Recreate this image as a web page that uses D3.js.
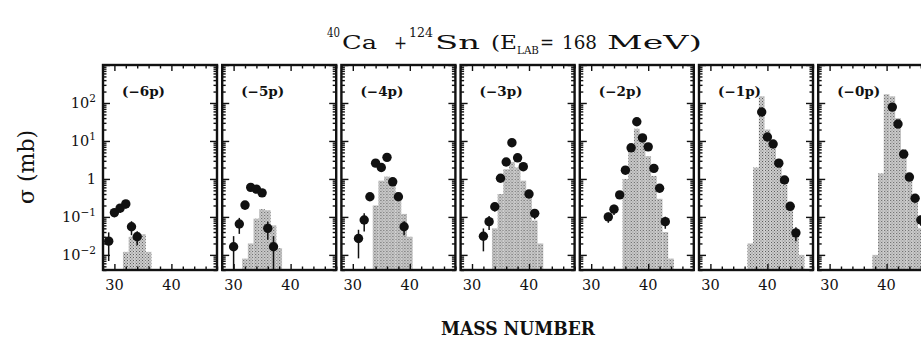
<!DOCTYPE html>
<html>
<head>
<meta charset="utf-8">
<script src="https://cdn.jsdelivr.net/npm/d3@7"></script>
<style>
  body { margin: 0; background: #fff; }
  text { font-family: "DejaVu Serif", serif; fill: #111; }
</style>
</head>
<body>
<script>
// channel labels, one panel each
var channels = ["(\u22126p)", "(\u22125p)", "(\u22124p)", "(\u22123p)", "(\u22122p)", "(\u22121p)", "(\u22120p)"];

// measured cross sections (mb) vs mass number
var expMass = [
  [29, 30, 31, 32, 33, 34],
  [30, 31, 32, 33, 34, 35, 36, 37],
  [31, 32, 33, 34, 35, 36, 37, 38, 39],
  [32, 33, 34, 35, 36, 37, 38, 39, 40, 41],
  [33, 34, 35, 36, 37, 38, 39, 40, 41, 42, 43],
  [39, 40, 41, 42, 43, 44, 45],
  [41, 42, 43, 44, 45, 46]
];
var expSigma = [
  [0.023, 0.13, 0.17, 0.22, 0.055, 0.03],
  [0.0164, 0.065, 0.205, 0.60, 0.54, 0.43, 0.05, 0.0164],
  [0.027, 0.083, 0.34, 2.6, 2.0, 3.7, 0.84, 0.34, 0.055],
  [0.031, 0.075, 0.185, 1.04, 2.8, 9.0, 3.6, 2.1, 0.40, 0.124],
  [0.10, 0.16, 0.38, 1.7, 6.6, 32, 12, 7.0, 1.9, 0.57, 0.075],
  [58, 12.7, 8.3, 2.6, 0.94, 0.19, 0.038],
  [78, 28, 4.5, 1.12, 0.31, 0.083]
];
// relative errors
var expErr = [
  [0.7, 0.25, 0.25, 0.25, 0.4, 0.4],
  [0.9, 0.45, 0.25, 0.15, 0.15, 0.15, 0.5, 0.9],
  [0.7, 0.5, 0.2, 0.15, 0.15, 0.15, 0.15, 0.2, 0.4],
  [0.6, 0.4, 0.25, 0.15, 0.15, 0.15, 0.15, 0.15, 0.2, 0.3],
  [0.3, 0.3, 0.2, 0.15, 0.15, 0.15, 0.15, 0.15, 0.15, 0.2, 0.35],
  [0.15, 0.15, 0.15, 0.15, 0.15, 0.2, 0.4],
  [0.15, 0.15, 0.15, 0.15, 0.2, 0.3]
];

// calculation (grey histogram)
var calcMass = [
  [32, 33, 34, 35, 36],
  [32, 33, 34, 35, 36, 37, 38],
  [34, 35, 36, 37, 38, 39, 40],
  [34, 35, 36, 37, 38, 39, 40, 41, 42],
  [36, 37, 38, 39, 40, 41, 42, 43, 44],
  [37, 38, 39, 40, 41, 42, 43, 44, 45, 46],
  [38, 39, 40, 41, 42, 43, 44, 45, 46, 47]
];
var calcSigma = [
  [0.012, 0.03, 0.04, 0.035, 0.012],
  [0.008, 0.02, 0.09, 0.16, 0.15, 0.06, 0.015],
  [0.2, 0.9, 1.15, 1.0, 0.45, 0.12, 0.03],
  [0.05, 0.4, 1.8, 2.8, 2.0, 0.9, 0.35, 0.08, 0.02],
  [1.0, 5, 21, 10, 4, 1.2, 0.3, 0.04, 0.008],
  [0.02, 2, 150, 20, 7, 2.5, 0.7, 0.15, 0.04, 0.01],
  [0.01, 1.4, 170, 150, 40, 6, 1.2, 0.25, 0.05, 0.01]
];

var xLabelTicks = [30, 40];
var yLabelTicks = [0.01, 0.1, 1, 10, 100];
var yLabelExp = ["\u22122", "\u22121", "", "1", "2"];

var width = 921, height = 341;
var margin = { left: 103, top: 65 };
var panelW = 114, panelH = 205, panelStep = 119.2;

var xScale = d3.scaleLinear().domain([28, 48]).range([0, panelW]);
var yScale = d3.scaleLog().domain([0.004, 1000]).range([panelH, 0]);

var svg = d3.select("body").append("svg")
    .attr("width", width)
    .attr("height", height);

// stippled grey fill
var pat = svg.append("defs").append("pattern")
    .attr("id", "stip")
    .attr("patternUnits", "userSpaceOnUse")
    .attr("width", 3).attr("height", 3);
pat.append("rect").attr("width", 3).attr("height", 3).attr("fill", "#cbcbcb");
pat.append("rect").attr("x", 0).attr("y", 0).attr("width", 1).attr("height", 1).attr("fill", "#5e5e5e");
pat.append("rect").attr("x", 1.5).attr("y", 1.5).attr("width", 1).attr("height", 1).attr("fill", "#7a7a7a");

var xMinor = d3.range(28, 49, 2).filter(function(d){ return xLabelTicks.indexOf(d) < 0; });
var yAll = yScale.ticks();
var yMajor = yAll.filter(function(d){ return Math.abs(Math.log10(d) - Math.round(Math.log10(d))) < 1e-6; });
var yMinor = yAll.filter(function(d){ return yMajor.indexOf(d) < 0; });

function tickAxis(g, axis) {
  g.call(axis);
  g.select(".domain").remove();
  g.selectAll("line").attr("stroke", "#111").attr("stroke-width", 1.4);
}

channels.forEach(function(label, i) {
  var g = svg.append("g")
      .attr("transform", "translate(" + (margin.left + i * panelStep) + "," + margin.top + ")");

  var calc = calcMass[i].map(function(m, j) { return { m: m, s: calcSigma[i][j] }; });
  var exp = expMass[i].map(function(m, j) { return { m: m, s: expSigma[i][j], e: expErr[i][j] }; });

  g.selectAll(".calc").data(calc).enter().append("rect")
      .attr("class", "calc")
      .attr("x", function(d) { return xScale(d.m - 0.5); })
      .attr("width", xScale(1) - xScale(0))
      .attr("y", function(d) { return yScale(d.s); })
      .attr("height", function(d) { return panelH - yScale(d.s); })
      .attr("fill", "url(#stip)");

  // error bars
  g.selectAll(".err").data(exp).enter().append("line")
      .attr("class", "err")
      .attr("x1", function(d) { return xScale(d.m); })
      .attr("x2", function(d) { return xScale(d.m); })
      .attr("y1", function(d) { return yScale(Math.max(d.s * (1 - d.e), 0.004)); })
      .attr("y2", function(d) { return yScale(d.s * (1 + d.e)); })
      .attr("stroke", "#111").attr("stroke-width", 1.5);

  g.selectAll(".pt").data(exp).enter().append("circle")
      .attr("class", "pt")
      .attr("cx", function(d) { return xScale(d.m); })
      .attr("cy", function(d) { return yScale(d.s); })
      .attr("r", 4.7)
      .attr("fill", "#111");

  // inward ticks on all four sides
  tickAxis(g.append("g"), d3.axisLeft(yScale).tickValues(yMajor).tickSize(-7).tickFormat(""));
  tickAxis(g.append("g"), d3.axisLeft(yScale).tickValues(yMinor).tickSize(-3.5).tickFormat(""));
  tickAxis(g.append("g").attr("transform", "translate(" + panelW + ",0)"),
      d3.axisRight(yScale).tickValues(yMajor).tickSize(-7).tickFormat(""));
  tickAxis(g.append("g").attr("transform", "translate(" + panelW + ",0)"),
      d3.axisRight(yScale).tickValues(yMinor).tickSize(-3.5).tickFormat(""));
  tickAxis(g.append("g").attr("transform", "translate(0," + panelH + ")"),
      d3.axisBottom(xScale).tickValues(xLabelTicks).tickSize(-6).tickFormat(""));
  tickAxis(g.append("g").attr("transform", "translate(0," + panelH + ")"),
      d3.axisBottom(xScale).tickValues(xMinor).tickSize(-3.5).tickFormat(""));
  tickAxis(g.append("g"), d3.axisTop(xScale).tickValues(xLabelTicks).tickSize(-6).tickFormat(""));
  tickAxis(g.append("g"), d3.axisTop(xScale).tickValues(xMinor).tickSize(-3.5).tickFormat(""));

  g.append("rect")
      .attr("width", panelW).attr("height", panelH)
      .attr("fill", "none").attr("stroke", "#111").attr("stroke-width", 2.4);

  g.append("text")
      .attr("x", 19).attr("y", 31)
      .attr("font-size", 12.5).attr("font-weight", "bold")
      .attr("textLength", 43).attr("lengthAdjust", "spacingAndGlyphs")
      .text(label);

  g.selectAll(".xl").data(xLabelTicks).enter().append("text")
      .attr("class", "xl")
      .attr("x", function(d) { return xScale(d); })
      .attr("y", panelH + 20)
      .attr("text-anchor", "middle")
      .attr("font-size", 14.5)
      .text(function(d) { return d; });

  if (i === 0) {
    var yl = g.selectAll(".yl").data(yLabelTicks).enter().append("text")
        .attr("class", "yl")
        .attr("x", -7)
        .attr("y", function(d) { return yScale(d) + 5; })
        .attr("text-anchor", "end")
        .attr("font-size", 14.5);
    yl.append("tspan").text(function(d, j) { return yLabelExp[j] === "" ? "1" : "10"; });
    yl.append("tspan")
        .attr("dy", -6).attr("font-size", 10.5)
        .text(function(d, j) { return yLabelExp[j]; });
  }
});

// title, laid out piece by piece (wide typewriter look)
var titleParts = [
  { t: "40",   x: 327, w: 13, y: 37, s: 12 },
  { t: "Ca",   x: 342, w: 35, y: 49, s: 19 },
  { t: "+",    x: 394, w: 13, y: 49, s: 19 },
  { t: "124",  x: 409, w: 24, y: 37, s: 12 },
  { t: "Sn",   x: 435, w: 45, y: 49, s: 19 },
  { t: "(E",   x: 491, w: 26, y: 49, s: 19 },
  { t: "LAB",  x: 517, w: 22, y: 54, s: 11 },
  { t: "=",    x: 540, w: 14, y: 49, s: 19 },
  { t: "168",  x: 562, w: 35, y: 49, s: 19 },
  { t: "MeV)", x: 607, w: 95, y: 49, s: 19 }
];
svg.selectAll(".title").data(titleParts).enter().append("text")
    .attr("class", "title")
    .attr("x", function(d) { return d.x; })
    .attr("y", function(d) { return d.y; })
    .attr("font-size", function(d) { return d.s; })
    .attr("textLength", function(d) { return d.w; })
    .attr("lengthAdjust", "spacingAndGlyphs")
    .text(function(d) { return d.t; });

// axis titles
svg.append("text")
    .attr("x", 518).attr("y", 335)
    .attr("text-anchor", "middle")
    .attr("font-size", 18).attr("font-weight", "bold")
    .attr("textLength", 154).attr("lengthAdjust", "spacingAndGlyphs")
    .text("MASS NUMBER");

svg.append("text")
    .attr("transform", "translate(34,167) rotate(-90)")
    .attr("text-anchor", "middle")
    .attr("font-size", 22)
    .text("\u03c3 (mb)");
</script>
</body>
</html>
